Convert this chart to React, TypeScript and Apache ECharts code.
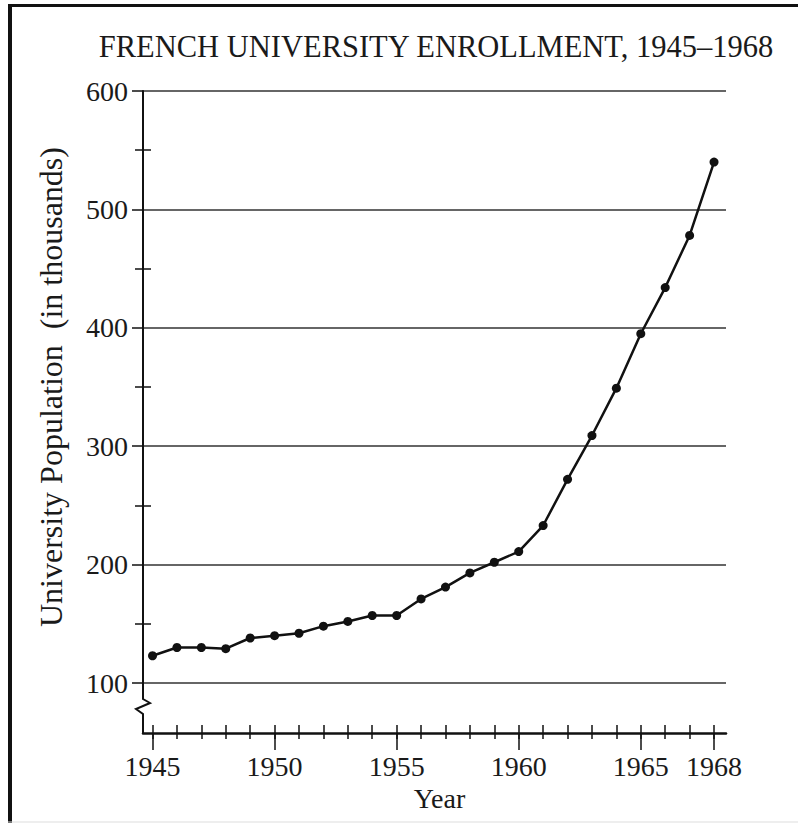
import React, { useEffect, useRef } from "react";
import * as echarts from "echarts";

const years = [1945, 1946, 1947, 1948, 1949, 1950, 1951, 1952, 1953, 1954, 1955, 1956,
  1957, 1958, 1959, 1960, 1961, 1962, 1963, 1964, 1965, 1966, 1967, 1968];
const enrollment = [123, 130, 130, 129, 138, 140, 142, 148, 152, 157, 157, 171,
  181, 193, 202, 211, 233, 272, 309, 349, 395, 434, 478, 540];
const xLabelYears = [1945, 1950, 1955, 1960, 1965, 1968];
const yMinorTicks = [150, 250, 350, 450, 550];
const titleText = "FRENCH UNIVERSITY ENROLLMENT, 1945\u20131968";
const yName = "University Population  (in thousands)";
const xName = "Year";

const FONT = "'Liberation Serif', 'Times New Roman', serif";
const X_MIN = 1944.61;
const X_MAX = 1968.49;
const Y_MIN = 100;
const Y_MAX = 600;

export default function App() {
  const ref = useRef<HTMLDivElement>(null);
  useEffect(() => {
    if (!ref.current) return;
    const chart = echarts.init(ref.current, null, { renderer: "svg" });
    const gridBox = { left: 143, right: 72, top: 91, bottom: 140 };
    const hiddenY = (gi: number) => ({
      type: "value", gridIndex: gi, min: Y_MIN, max: Y_MAX, interval: 100,
      axisLine: { show: false }, axisTick: { show: false }, axisLabel: { show: false },
      splitLine: { show: false },
    });
    const baseX = (gi: number) => ({
      type: "value", gridIndex: gi, min: X_MIN, max: X_MAX, position: "bottom", offset: 50,
      splitLine: { show: false },
    });
    chart.setOption({
      animation: false,
      backgroundColor: "#ffffff",
      grid: [gridBox, gridBox, gridBox].map((g) => ({ ...g, containLabel: false })),
      xAxis: [
        {
          ...baseX(0),
          axisLine: { show: true, lineStyle: { color: "#111", width: 2.5 } },
          axisTick: { show: true, inside: true, length: 8, customValues: years, lineStyle: { color: "#111", width: 1.5 } },
          axisLabel: {
            show: true, customValues: xLabelYears, margin: 19,
            fontFamily: FONT, fontSize: 28, color: "#1a1a1a",
            formatter: (v: number) => String(Math.round(v)),
          },
          name: xName, nameLocation: "middle", nameGap: 51,
          nameTextStyle: { fontFamily: FONT, fontSize: 28, color: "#1a1a1a", padding: [0, 0, 0, 10] },
        },
        {
          ...baseX(1),
          axisLine: { show: false },
          axisTick: { show: true, inside: false, length: 6, customValues: years, lineStyle: { color: "#111", width: 1.5 } },
          axisLabel: { show: false },
        },
        {
          ...baseX(2),
          axisLine: { show: false },
          axisTick: { show: true, inside: false, length: 17, customValues: xLabelYears, lineStyle: { color: "#111", width: 1.5 } },
          axisLabel: { show: false },
        },
      ],
      yAxis: [
        {
          type: "value", gridIndex: 0, min: Y_MIN, max: Y_MAX, interval: 100,
          axisLine: { show: true, lineStyle: { color: "#111", width: 2 } },
          axisTick: { show: true, inside: false, length: 11, lineStyle: { color: "#111", width: 1.5 } },
          minorTick: { show: true, splitNumber: 2, length: 8, lineStyle: { color: "#111", width: 1.5 } },
          axisLabel: { show: true, margin: 15, fontFamily: FONT, fontSize: 28, color: "#1a1a1a" },
          splitLine: { show: true, lineStyle: { color: "#666", width: 2 } },
          name: yName, nameLocation: "middle", nameGap: 76, nameRotate: 90,
          nameTextStyle: { fontFamily: FONT, fontSize: 32, color: "#1a1a1a" },
        },
        {
          ...hiddenY(1),
          axisTick: { show: true, inside: true, length: 8, customValues: yMinorTicks, lineStyle: { color: "#111", width: 1.5 } },
        },
        hiddenY(2),
      ],
      series: [
        {
          type: "line", xAxisIndex: 0, yAxisIndex: 0,
          data: years.map((y, i) => [y, enrollment[i]]),
          symbol: "circle", symbolSize: 9,
          itemStyle: { color: "#111" },
          lineStyle: { color: "#111", width: 2.5 },
        },
      ],
    });

    const corner = chart.convertToPixel({ xAxisIndex: 0, yAxisIndex: 0 }, [X_MIN, Y_MIN]) as number[];
    const ax = corner[0];
    const ay = corner[1];
    chart.setOption({
      graphic: [
        {
          type: "polyline",
          shape: {
            points: [
              [ax, ay], [ax, ay + 16], [ax + 7, ay + 20], [ax - 7, ay + 26],
              [ax, ay + 31], [ax, ay + 50],
            ],
          },
          style: { stroke: "#111", lineWidth: 2, fill: null },
        },
        {
          type: "text", x: 436, y: 47,
          style: {
            text: titleText, fontFamily: FONT, fontSize: 30.5, fill: "#1a1a1a",
            textAlign: "center", textVerticalAlign: "middle",
          },
        },
        { type: "line", shape: { x1: 10, y1: 4, x2: 10, y2: 823 }, style: { stroke: "#111", lineWidth: 4 } },
        { type: "line", shape: { x1: 8, y1: 5.5, x2: 798, y2: 5.5 }, style: { stroke: "#111", lineWidth: 3 } },
        { type: "line", shape: { x1: 8, y1: 822, x2: 798, y2: 822 }, style: { stroke: "#dddddd", lineWidth: 1 } },
      ],
    });
    return () => chart.dispose();
  }, []);
  return (
    <div
      ref={ref}
      style={{ position: "fixed", left: 0, top: 0, width: 798, height: 823, background: "#fff" }}
    />
  );
}
